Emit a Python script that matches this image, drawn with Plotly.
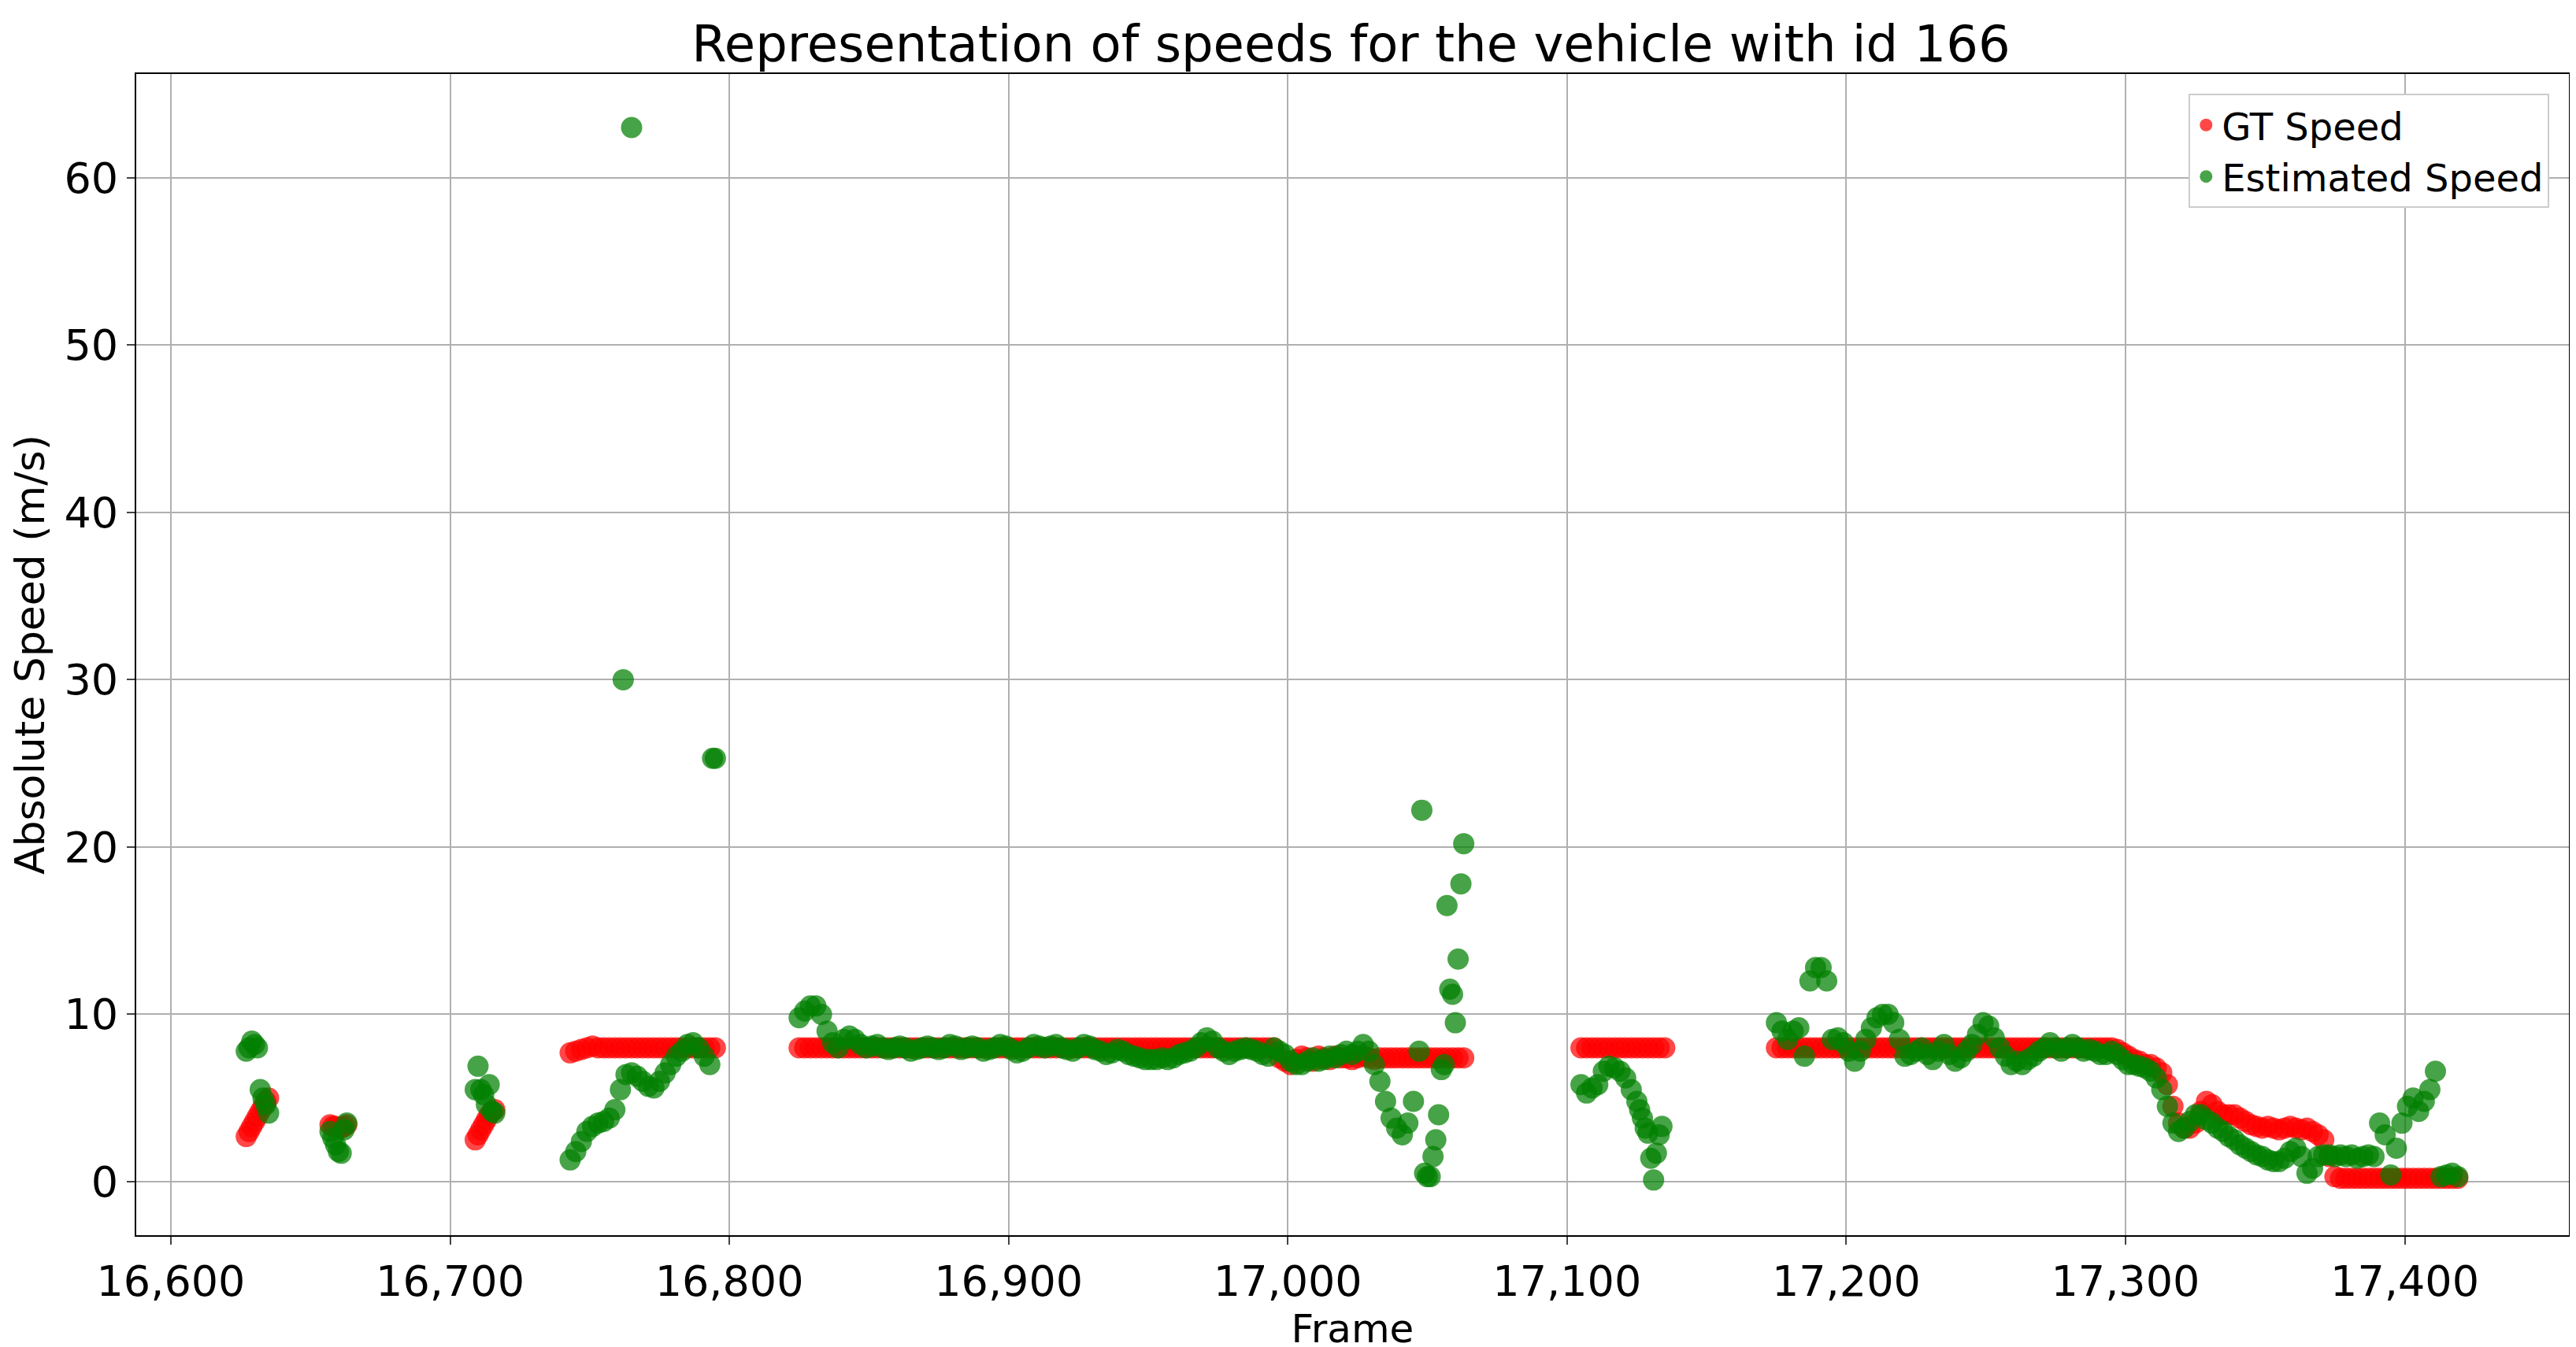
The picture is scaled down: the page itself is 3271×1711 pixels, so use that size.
import plotly.graph_objects as go

# (start_frame, step, values)
gt_segments = [
    (16627, 1, [2.7, 3.0, 3.3, 3.6, 3.9, 4.2, 4.5, 4.8, 5.0]),
    (16657, 1, [3.4, 3.3, 3.3, 3.2, 3.2, 3.3, 3.4]),
    (16709, 1, [2.5, 2.8, 3.1, 3.4, 3.7, 4.0, 4.2, 4.3]),
    (16743, 2, [7.7, 7.8, 7.9, 8.0, 8.1, 8.0] + [8.0] * 21),
    (16825, 2, [8.0] * 86 + [7.4, 7.2, 7.0, 7.3, 7.5, 7.4, 7.2, 7.5, 7.4, 7.3, 7.5, 7.4,
                             7.4, 7.3, 7.4, 7.5, 7.4, 7.3] + [7.4] * 16),
    (17105, 2, [8.0] * 16),
    (17175, 2, [8.0] * 61 + [7.9, 7.7, 7.5, 7.3, 7.2, 7.0, 7.0, 6.8, 6.5, 5.8, 4.5, 3.5, 3.2, 3.2,
                             3.5, 4.2, 4.8, 4.6, 4.2, 4.0, 4.0, 4.0, 3.8, 3.6, 3.4, 3.3, 3.2, 3.3,
                             3.2, 3.1, 3.2, 3.3, 3.2, 3.1, 3.2, 3.0, 2.8, 2.5, 1.5, 0.3] + [0.2] * 22),
]

est_segments = [
    (16627, 1, [7.8, 8.0, 8.4, 8.2, 8.0, 5.5, 5.0, 4.6, 4.1]),
    (16657, 1, [3.0, 2.6, 2.2, 1.8, 1.7, 3.1, 3.5]),
    (16709, 1, [5.5, 6.9, 5.5, 5.2, 4.6, 5.8, 4.2, 4.1]),
    (16743, 2, [1.3, 1.8, 2.4, 3.0, 3.3, 3.5, 3.6, 3.8, 4.3, 5.5, 6.4, 6.5, 6.3, 6.0, 5.7, 5.6,
                6.0, 6.5, 7.0, 7.5, 7.8, 8.2, 8.3, 8.0, 7.5, 7.0]),
    (16762, 3, [30.0, 63.0]),
    (16794, 1, [25.3, 25.3]),
    (16825, 2, [9.8, 10.2, 10.5, 10.5, 10.0, 9.0, 8.3, 8.0, 8.5, 8.7,
                8.5, 8.2, 8.0, 8.1, 8.2, 8.0, 7.9, 8.0, 8.1, 8.0,
                7.8, 7.9, 8.0, 8.1, 8.0, 7.9, 8.0, 8.2, 8.1, 7.9,
                8.0, 8.1, 8.0, 7.8, 7.9, 8.0, 8.2, 8.1, 7.9, 7.7,
                7.8, 8.0, 8.2, 8.1, 8.0, 8.1, 8.2, 8.0, 7.9, 7.8,
                8.0, 8.2, 8.1, 7.9, 7.8, 7.6, 7.7, 7.9, 7.8, 7.6,
                7.5, 7.4, 7.3, 7.3, 7.3, 7.4, 7.3, 7.4, 7.6, 7.7,
                7.8, 8.0, 8.3, 8.6, 8.4, 8.0, 7.8, 7.6, 7.8, 7.9,
                8.0, 7.9, 7.8, 7.6, 7.5, 8.0, 7.8, 7.6, 7.2, 7.0,
                7.0, 7.2, 7.4, 7.2, 7.3, 7.5, 7.4, 7.6, 7.8, 7.6,
                7.8, 8.2, 7.8, 7.0, 6.0, 4.8, 3.8, 3.2, 2.8, 3.5,
                4.8, 7.8]),
    (17048, 1, [22.2, 0.5, 0.3, 0.3, 1.5, 2.5, 4.0, 6.7, 7.0, 16.5, 11.5, 11.2, 9.5, 13.3, 17.8, 20.2]),
    (17105, 2, [5.8, 5.3, 5.6, 5.8, 6.6, 6.9, 6.8, 6.6, 6.2, 5.5, 4.8]),
    (17126, 1, [4.3, 3.8, 3.2, 2.9, 1.4, 0.1, 1.7, 2.8, 3.3]),
    (17175, 2, [9.5, 9.0, 8.5, 9.0, 9.2, 7.5, 12.0, 12.8, 12.8, 12.0,
                8.5, 8.6, 8.3, 7.8, 7.2, 7.8, 8.5, 9.2, 9.8, 10.0,
                10.0, 9.5, 8.5, 7.5, 7.6, 7.8, 8.0, 7.6, 7.3, 7.8,
                8.2, 7.6, 7.2, 7.4, 7.8, 8.2, 8.8, 9.5, 9.3, 8.6,
                8.0, 7.5, 7.0, 7.2, 7.0, 7.3, 7.5, 7.8, 8.0, 8.3,
                8.0, 7.8, 8.0, 8.2, 8.0, 7.8, 7.9, 7.8, 7.6, 7.6,
                7.8, 7.6, 7.3, 7.0, 7.0, 6.9, 6.8, 6.6, 6.2, 5.5,
                4.5, 3.5, 3.0, 3.2, 3.6, 4.0, 4.0, 3.7, 3.5, 3.2,
                3.0, 2.7, 2.5, 2.2, 2.0, 1.8, 1.6, 1.5, 1.3, 1.2,
                1.2, 1.4, 1.8, 2.0, 1.5, 0.5, 0.8, 1.5, 1.6, 1.6,
                1.5, 1.6, 1.5, 1.6, 1.4, 1.5, 1.6, 1.5, 3.5, 2.8,
                0.4, 2.0, 3.5, 4.5, 5.0, 4.2, 4.8, 5.5, 6.6, 0.3,
                0.4, 0.5, 0.3]),
]

x_ticks = [16600, 16700, 16800, 16900, 17000, 17100, 17200, 17300, 17400]
x_tick_labels = ["16,600", "16,700", "16,800", "16,900", "17,000", "17,100", "17,200", "17,300", "17,400"]
y_ticks = [0, 10, 20, 30, 40, 50, 60]


def expand(segments):
    xs, ys = [], []
    for start, step, vals in segments:
        for i, v in enumerate(vals):
            xs.append(start + i * step)
            ys.append(v)
    return xs, ys


gx, gy = expand(gt_segments)
ex, ey = expand(est_segments)

fig = go.Figure()
fig.add_trace(go.Scatter(x=gx, y=gy, mode="markers", name="GT Speed",
                         marker=dict(color="red", size=27, opacity=0.72, line=dict(width=0))))
fig.add_trace(go.Scatter(x=ex, y=ey, mode="markers", name="Estimated Speed",
                         marker=dict(color="green", size=27, opacity=0.72, line=dict(width=0))))

font = "DejaVu Sans"
fig.update_layout(
    width=3271, height=1711,
    paper_bgcolor="white", plot_bgcolor="white",
    margin=dict(l=165, r=17, t=86, b=150),
    title=dict(text="Representation of speeds for the vehicle with id 166", x=0.522, xanchor="center",
               y=0.972, yanchor="middle", font=dict(family=font, size=64, color="black")),
    font=dict(family=font, color="black"),
    legend=dict(x=0.992, y=0.983, xanchor="right", yanchor="top", bgcolor="white",
                bordercolor="#cccccc", borderwidth=2, font=dict(size=48, family=font),
                itemsizing="trace", tracegroupgap=10),
)
fig.update_xaxes(range=[16587.6, 17458.8], tickvals=x_ticks, ticktext=x_tick_labels,
                 showgrid=True, gridcolor="#b0b0b0", gridwidth=2, showline=True, linecolor="black",
                 linewidth=2, mirror=True, ticks="outside", ticklen=10, tickwidth=2,
                 tickfont=dict(size=54), title=dict(text="Frame", font=dict(size=50), standoff=6),
                 zeroline=False)
fig.update_yaxes(range=[-3.2, 66.2], tickvals=y_ticks, showgrid=True, gridcolor="#b0b0b0", gridwidth=2,
                 showline=True, linecolor="black", linewidth=2, mirror=True, ticks="outside",
                 ticklen=10, tickwidth=2, tickfont=dict(size=54),
                 title=dict(text="Absolute Speed (m/s)", font=dict(size=52), standoff=12), zeroline=False)

fig.write_html("out.html")
